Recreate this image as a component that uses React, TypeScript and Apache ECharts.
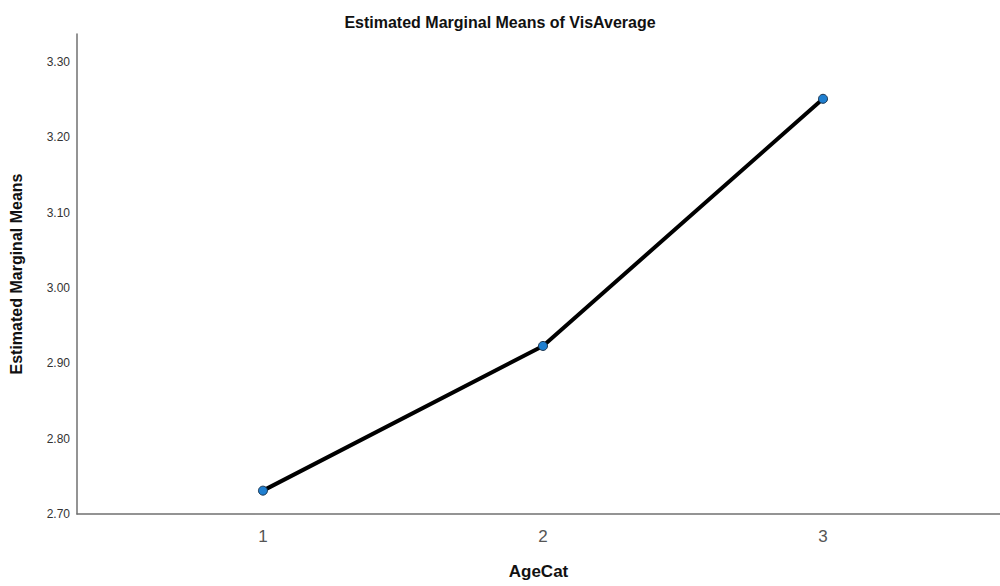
import React, { useEffect, useRef } from "react";
import * as echarts from "echarts";

const categories = [1, 2, 3];
const means = [2.731, 2.923, 3.251];
const yTicks = ["2.70", "2.80", "2.90", "3.00", "3.10", "3.20", "3.30"];

export default function App() {
  const ref = useRef<HTMLDivElement>(null);
  useEffect(() => {
    if (!ref.current) return;
    const chart = echarts.init(ref.current, undefined, { renderer: "svg" });
    chart.setOption({
      animation: false,
      backgroundColor: "#ffffff",
      textStyle: { fontFamily: "Liberation Sans, Arial, sans-serif" },
      title: {
        text: "Estimated Marginal Means of VisAverage",
        left: "center",
        top: 9,
        textStyle: { fontSize: 16, fontWeight: "bold", color: "#111" },
      },
      grid: {
        left: 77,
        right: 0,
        top: 34,
        bottom: 72,
        containLabel: false,
        outerBoundsMode: "none",
      },
      xAxis: {
        type: "value",
        min: 0.336,
        max: 3.632,
        name: "AgeCat",
        nameLocation: "middle",
        nameGap: 49,
        nameTextStyle: { fontSize: 17, fontWeight: "bold", color: "#111" },
        axisLine: { show: true, lineStyle: { color: "#707070", width: 1.5 } },
        axisTick: { show: false },
        splitLine: { show: false },
        axisLabel: {
          fontSize: 17,
          color: "#555",
          margin: 14,
          customValues: categories,
          formatter: (v: number) => String(v),
        },
      },
      yAxis: {
        type: "value",
        min: 2.7,
        max: 3.337,
        interval: 0.1,
        name: "Estimated Marginal Means",
        nameLocation: "middle",
        nameGap: 53,
        nameTextStyle: { fontSize: 16, fontWeight: "bold", color: "#111" },
        axisLine: { show: true, lineStyle: { color: "#707070", width: 1.5 } },
        axisTick: { show: false },
        splitLine: { show: false },
        axisLabel: {
          fontSize: 12,
          color: "#333",
          margin: 7,
          customValues: yTicks.map(Number),
          formatter: (v: number) => v.toFixed(2),
        },
      },
      series: [
        {
          type: "line",
          data: categories.map((c, i) => [c, means[i]]),
          lineStyle: { color: "#000", width: 4 },
          symbol: "circle",
          symbolSize: 9,
          itemStyle: { color: "#1f7fd0", borderColor: "#1a3550", borderWidth: 1 },
          z: 3,
        },
      ],
    });
    return () => chart.dispose();
  }, []);
  return (
    <div
      ref={ref}
      style={{ position: "absolute", left: 0, top: 0, width: 1000, height: 586 }}
    />
  );
}
